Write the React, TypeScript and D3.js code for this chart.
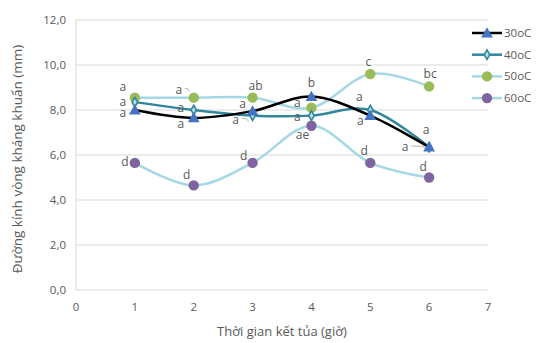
import React from 'react';
import * as d3 from 'd3';

const hours = [1, 2, 3, 4, 5, 6];
const seriesNames = ['30oC', '40oC', '50oC', '60oC'];
const v30 = [8.0, 7.65, 7.95, 8.6, 7.75, 6.35];
const v40 = [8.35, 8.0, 7.75, 7.75, 8.0, 6.35];
const v50 = [8.55, 8.55, 8.55, 8.1, 9.6, 9.05];
const v60 = [5.65, 4.65, 5.65, 7.3, 5.65, 5.0];
const lab30 = ['a', 'a', 'a', 'b', 'a', 'a'];
const lab40 = ['a', 'a', 'a', 'a', 'a', 'a'];
const lab50 = ['a', 'a', 'ab', 'a', 'c', 'bc'];
const lab60 = ['d', 'd', 'd', 'ae', 'd', 'd'];
const yTicks = [0, 2, 4, 6, 8, 10, 12];
const xTicks = [0, 1, 2, 3, 4, 5, 6, 7];

// label offsets (dx, dy) relative to the point, and whether a leader line is drawn
const off30: [number, number, boolean][] = [[-12, 7, false], [-13, 10, false], [-10, -3, false], [0, -10, false], [-10, 9, false], [-24, 4, true]];
const off40: [number, number, boolean][] = [[-12, 4, false], [-13, 2, false], [-17, 8, true], [-14, 5, false], [-11, -9, false], [-3, -13, false]];
const off50: [number, number, boolean][] = [[-12, -7, false], [-15, -4, true], [3, -8, false], [-14, -1, false], [-2, -8, false], [1, -8, false]];
const off60: [number, number, boolean][] = [[-10, 3, false], [-7, -6, false], [-9, -3, false], [-9, 13, false], [-6, -8, false], [-6, -7, false]];

const W = 542, H = 343;
const m = { left: 76, right: 488, top: 20, bottom: 290 };
const font = 'Open Sans, Noto Sans, sans-serif';
const txt = '#595959';

const x = d3.scaleLinear().domain([0, 7]).range([m.left, m.right]);
const y = d3.scaleLinear().domain([0, 12]).range([m.bottom, m.top]);

const series = [
  { name: seriesNames[0], vals: v30, labels: lab30, offs: off30, line: '#000000', lw: 2.5, marker: 'triangle', fill: '#4472C4', stroke: '#4472C4' },
  { name: seriesNames[1], vals: v40, labels: lab40, offs: off40, line: '#31859C', lw: 2.5, marker: 'diamond', fill: '#B7E1EC', stroke: '#31859C' },
  { name: seriesNames[2], vals: v50, labels: lab50, offs: off50, line: '#A5D8E6', lw: 2.5, marker: 'circle', fill: '#9BBB59', stroke: '#9BBB59' },
  { name: seriesNames[3], vals: v60, labels: lab60, offs: off60, line: '#A5D8E6', lw: 2.5, marker: 'circle', fill: '#8064A2', stroke: '#8064A2' },
];

const lineGen = d3.line<[number, number]>().x(d => x(d[0])).y(d => y(d[1])).curve(d3.curveCardinal.tension(0));

function Marker({ type, cx, cy, fill, stroke }: { type: string; cx: number; cy: number; fill: string; stroke: string }) {
  if (type === 'triangle') {
    const p = d3.symbol().type(d3.symbolTriangle).size(60)();
    return <path d={p || ''} transform={`translate(${cx},${cy + 1})`} fill={fill} />;
  }
  if (type === 'diamond') {
    const p = d3.symbol().type(d3.symbolDiamond).size(26)();
    return <path d={p || ''} transform={`translate(${cx},${cy})`} fill={fill} stroke={stroke} strokeWidth={1.6} />;
  }
  return <circle cx={cx} cy={cy} r={5.2} fill={fill} />;
}

export default function App() {
  return (
    <svg width={W} height={H} style={{ position: 'absolute', left: 0, top: 0, background: '#fff' }}>
      {yTicks.map(t => (
        <g key={t}>
          <line x1={m.left} x2={m.right} y1={y(t)} y2={y(t)} stroke="#d9d9d9" strokeWidth={1} />
          <text x={m.left - 10} y={y(t) + 4} textAnchor="end" fontSize={11.5} fontFamily={font} fill={txt}>{t.toFixed(1).replace('.', ',')}</text>
        </g>
      ))}
      <line x1={m.left} x2={m.left} y1={m.top} y2={m.bottom} stroke="#d9d9d9" />
      {xTicks.map(t => (
        <text key={t} x={x(t)} y={m.bottom + 21} textAnchor="middle" fontSize={11.5} fontFamily={font} fill={txt}>{t}</text>
      ))}
      <text x={(m.left + m.right) / 2} y={336} textAnchor="middle" fontSize={13} fontFamily={font} fill={txt}>Thời gian kết tủa (giờ)</text>
      <text transform={`translate(22,${(m.top + m.bottom) / 2 + 4}) rotate(-90)`} textAnchor="middle" fontSize={13.5} fontFamily={font} fill={txt}>Đường kính vòng kháng khuẩn (mm)</text>
      {series.slice().reverse().map(s => (
        <path key={s.name} d={lineGen(hours.map((h, i) => [h, s.vals[i]] as [number, number])) || ''} fill="none" stroke={s.line} strokeWidth={s.lw} />
      ))}
      {series.slice().reverse().map(s => (
        <g key={s.name + 'm'}>
          {hours.map((h, i) => (
            <Marker key={h} type={s.marker} cx={x(h)} cy={y(s.vals[i])} fill={s.fill} stroke={s.stroke} />
          ))}
        </g>
      ))}
      {series.map(s => (
        <g key={s.name + 'l'}>
          {hours.map((h, i) => {
            const [dx, dy, lead] = s.offs[i];
            const px = x(h), py = y(s.vals[i]);
            return (
              <g key={h}>
                {lead && <polyline points={`${px + dx + 6},${py + dy - 5} ${px - 6},${py + dy - 5} ${px - 4},${py + dy - 2}`} fill="none" stroke="#a6a6a6" strokeWidth={0.8} />}
                <text x={px + dx} y={py + dy} textAnchor="middle" fontSize={12} fontFamily={font} fill={txt}>{s.labels[i]}</text>
              </g>
            );
          })}
        </g>
      ))}
      {series.map((s, i) => {
        const ly = 33 + i * 21.7;
        return (
          <g key={s.name + 'lg'}>
            <line x1={472} x2={502} y1={ly} y2={ly} stroke={s.line} strokeWidth={s.lw} />
            <Marker type={s.marker} cx={487} cy={ly} fill={s.fill} stroke={s.stroke} />
            <text x={504} y={ly + 4} fontSize={11.5} fontFamily={font} fill={txt}>{s.name}</text>
          </g>
        );
      })}
    </svg>
  );
}
